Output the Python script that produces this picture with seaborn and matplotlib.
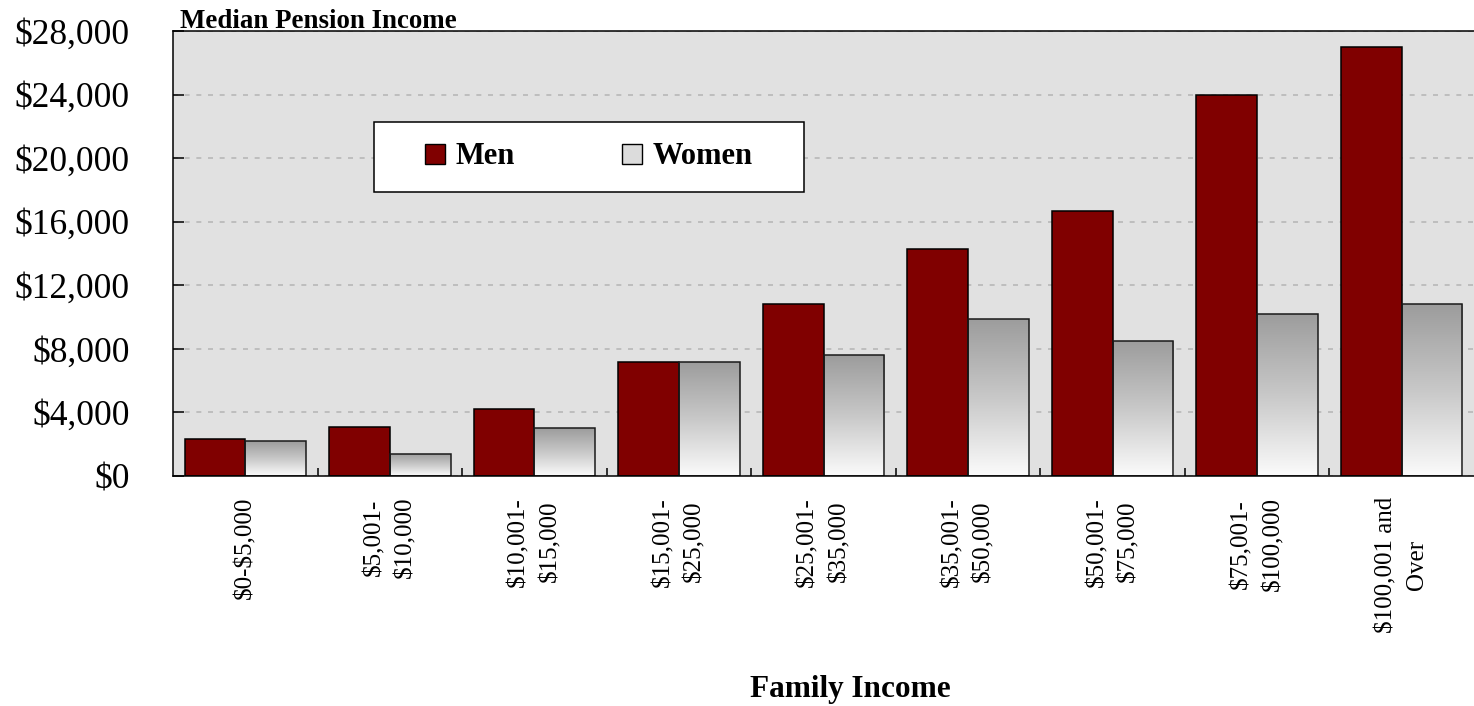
import numpy as np
import pandas as pd
import matplotlib
matplotlib.use("Agg")
import matplotlib.pyplot as plt
import seaborn as sns
from matplotlib.patches import Rectangle, Patch
from matplotlib.colors import LinearSegmentedColormap
from matplotlib.ticker import FuncFormatter

# ---- data ----
categories = ["$0-$5,000", "$5,001-\n$10,000", "$10,001-\n$15,000", "$15,001-\n$25,000",
              "$25,001-\n$35,000", "$35,001-\n$50,000", "$50,001-\n$75,000",
              "$75,001-\n$100,000", "$100,001 and\nOver"]
series = ["Men", "Women"]
men = [2300, 3100, 4200, 7200, 10800, 14300, 16700, 24000, 27000]
women = [2200, 1400, 3000, 7200, 7600, 9900, 8500, 10200, 10800]
y_ticks = [0, 4000, 8000, 12000, 16000, 20000, 24000, 28000]

sns.set_theme(style="white")
plt.rcParams["font.family"] = ["Liberation Serif", "DejaVu Serif"]
plt.rcParams["text.parse_math"] = False
plt.rcParams["text.color"] = "black"

df = pd.DataFrame({
    "income": categories * 2,
    "sex": [series[0]] * len(categories) + [series[1]] * len(categories),
    "value": men + women,
})

W, H = 1474, 706
fig = plt.figure(figsize=(W / 100, H / 100), dpi=100)
ax = fig.add_axes([173 / W, 1 - 476 / H, 1301 / W, 445 / H])
ax.set_facecolor("#e1e1e1")

sns.barplot(data=df, x="income", y="value", hue="sex", order=categories,
            hue_order=series, palette={"Men": "#800000", "Women": "#d0d0d0"},
            width=0.84, edgecolor="black", linewidth=1.1, saturation=1,
            legend=False, ax=ax)

# gradient fill for women bars
cmap = LinearSegmentedColormap.from_list("g", ["#9c9c9c", "#c8c8c8", "#fbfbfb"])
grad = np.linspace(0, 1, 256).reshape(-1, 1)
for bar in ax.containers[1]:
    x0, w, h = bar.get_x(), bar.get_width(), bar.get_height()
    im = ax.imshow(grad, cmap=cmap, extent=[x0, x0 + w, 0, h], aspect="auto",
                   origin="upper", zorder=0.9, interpolation="bilinear")
    im.set_clip_path(bar)
    bar.set_facecolor("none")
    bar.set_edgecolor("#1a1a1a")

ax.set_xlim(-0.5, len(categories) - 0.5)
ax.set_ylim(0, 28000)
ax.set_aspect("auto")

ax.set_axisbelow(True)
ax.yaxis.grid(True, linestyle=(0, (3, 4)), color="#b8b8b8", linewidth=1.2)
ax.xaxis.grid(False)

ax.set_yticks(y_ticks)
ax.yaxis.set_major_formatter(FuncFormatter(lambda v, p: f"${v:,.0f}"))
ax.tick_params(axis="y", direction="in", length=8, width=1.1, pad=31,
               labelsize=25.5, colors="black", left=True)

ax.set_xticks(range(len(categories)))
ax.set_xticklabels(categories, rotation=90, ha="center", va="top",
                   multialignment="center", linespacing=1.55)
ax.tick_params(axis="x", which="major", length=0, pad=15, labelsize=18,
               colors="black")
ax.set_xticks([i + 0.5 for i in range(len(categories) - 1)], minor=True)
ax.tick_params(axis="x", which="minor", direction="in", length=6, width=1.1,
               color="black", bottom=True)

ax.set_xlabel("")
ax.set_ylabel("")
for s in ["left", "bottom", "top"]:
    ax.spines[s].set_visible(True)
    ax.spines[s].set_color("black")
    ax.spines[s].set_linewidth(1.1)
ax.spines["right"].set_visible(False)

# legend box
ax.add_patch(Rectangle((0.1545, 0.638), 0.3305, 0.1575, transform=ax.transAxes,
                       facecolor="white", edgecolor="black", lw=1.1, zorder=5))
handles = [Patch(facecolor="#800000", edgecolor="black", lw=1.0),
           Patch(facecolor="#dcdcdc", edgecolor="black", lw=1.0)]
leg = ax.legend(handles, series, loc="center", bbox_to_anchor=(0.3195, 0.717),
                ncol=2, frameon=False, prop={"weight": "bold", "size": 22},
                handlelength=0.65, handleheight=0.65, handletextpad=0.35,
                columnspacing=3.5, labelcolor="black")
leg.set_zorder(6)

ax.text(0.0054, 1.007, "Median Pension Income", transform=ax.transAxes,
        ha="left", va="baseline", fontsize=19.4, fontweight="bold", color="black")
fig.text(850 / W, 1 - 690 / H, "Family Income", ha="center", va="center",
         fontsize=22.5, fontweight="bold", color="black")

fig.savefig("out.png", dpi=100)
